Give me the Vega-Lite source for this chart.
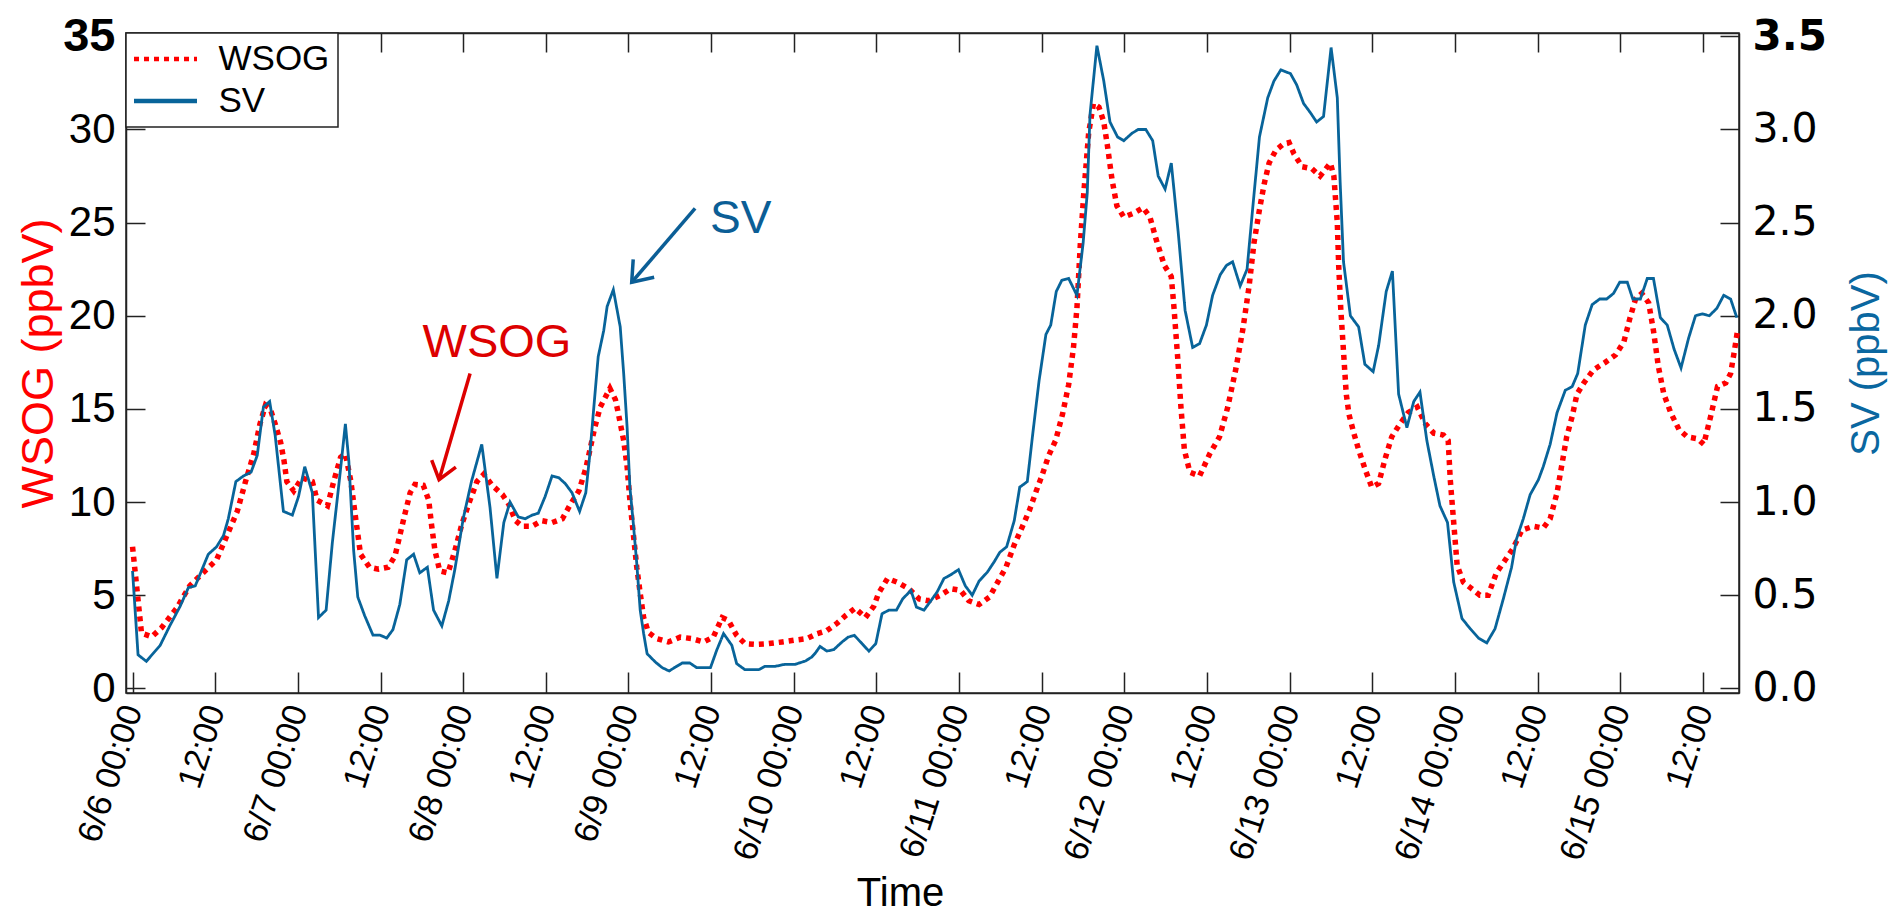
{
"$schema": "https://vega.github.io/schema/vega-lite/v6.json",
"width": 1613,
"height": 660,
"autosize": {"type": "none"},
"padding": {"left": 126, "top": 33, "right": 150, "bottom": 220},
"background": "white",
"config": {
 "font": "Liberation Sans",
 "view": {"stroke": "#222", "strokeWidth": 1.5},
 "axis": {"grid": false, "domainColor": "#222", "domainWidth": 1.5, "tickColor": "#222", "tickWidth": 1.5, "labelColor": "black", "labelFont": "Liberation Sans", "titleFont": "Liberation Sans", "titleFontWeight": "normal", "labelOverlap": false, "labelFlush": false, "labelBound": false},
 "legend": {"orient": "top-left", "offset": 0, "padding": 8, "strokeColor": "#222", "strokeWidth": 1.5, "fillColor": "white", "cornerRadius": 0, "labelFontSize": 35, "labelFont": "Liberation Sans", "labelColor": "black", "symbolType": "M -2 0 L 2 0", "symbolSize": 992, "symbolOffset": 13.5, "symbolStrokeWidth": 4.5, "labelOffset": 35, "rowPadding": 6}
},
"data": {"values": [
{"time":"2010-06-06T00:00Z","series":"WSOG","ppbv":7.6},
{"time":"2010-06-06T01:18Z","series":"WSOG","ppbv":2.96},
{"time":"2010-06-06T02:48Z","series":"WSOG","ppbv":2.77},
{"time":"2010-06-06T04:12Z","series":"WSOG","ppbv":3.25},
{"time":"2010-06-06T06:24Z","series":"WSOG","ppbv":4.3},
{"time":"2010-06-06T08:18Z","series":"WSOG","ppbv":5.5},
{"time":"2010-06-06T10:48Z","series":"WSOG","ppbv":6.4},
{"time":"2010-06-06T12:12Z","series":"WSOG","ppbv":6.9},
{"time":"2010-06-06T13:42Z","series":"WSOG","ppbv":8.2},
{"time":"2010-06-06T15:12Z","series":"WSOG","ppbv":9.5},
{"time":"2010-06-06T16:24Z","series":"WSOG","ppbv":11.1},
{"time":"2010-06-06T17:36Z","series":"WSOG","ppbv":12.6},
{"time":"2010-06-06T18:30Z","series":"WSOG","ppbv":14.2},
{"time":"2010-06-06T19:18Z","series":"WSOG","ppbv":15.2},
{"time":"2010-06-06T20:00Z","series":"WSOG","ppbv":15.0},
{"time":"2010-06-06T20:42Z","series":"WSOG","ppbv":14.2},
{"time":"2010-06-06T21:30Z","series":"WSOG","ppbv":13.2},
{"time":"2010-06-06T22:00Z","series":"WSOG","ppbv":12.2},
{"time":"2010-06-06T22:24Z","series":"WSOG","ppbv":11.1},
{"time":"2010-06-06T23:24Z","series":"WSOG","ppbv":10.6},
{"time":"2010-06-07T00:36Z","series":"WSOG","ppbv":11.3},
{"time":"2010-06-07T02:06Z","series":"WSOG","ppbv":11.1},
{"time":"2010-06-07T02:48Z","series":"WSOG","ppbv":10.1},
{"time":"2010-06-07T04:18Z","series":"WSOG","ppbv":9.8},
{"time":"2010-06-07T05:12Z","series":"WSOG","ppbv":11.1},
{"time":"2010-06-07T06:12Z","series":"WSOG","ppbv":12.4},
{"time":"2010-06-07T06:54Z","series":"WSOG","ppbv":12.6},
{"time":"2010-06-07T07:42Z","series":"WSOG","ppbv":11.1},
{"time":"2010-06-07T08:24Z","series":"WSOG","ppbv":9.1},
{"time":"2010-06-07T09:06Z","series":"WSOG","ppbv":7.2},
{"time":"2010-06-07T10:24Z","series":"WSOG","ppbv":6.5},
{"time":"2010-06-07T11:42Z","series":"WSOG","ppbv":6.4},
{"time":"2010-06-07T13:06Z","series":"WSOG","ppbv":6.5},
{"time":"2010-06-07T14:06Z","series":"WSOG","ppbv":7.1},
{"time":"2010-06-07T14:48Z","series":"WSOG","ppbv":8.2},
{"time":"2010-06-07T15:30Z","series":"WSOG","ppbv":9.3},
{"time":"2010-06-07T16:18Z","series":"WSOG","ppbv":10.5},
{"time":"2010-06-07T17:00Z","series":"WSOG","ppbv":10.95},
{"time":"2010-06-07T18:12Z","series":"WSOG","ppbv":10.9},
{"time":"2010-06-07T19:00Z","series":"WSOG","ppbv":10.1},
{"time":"2010-06-07T19:24Z","series":"WSOG","ppbv":8.8},
{"time":"2010-06-07T19:54Z","series":"WSOG","ppbv":7.4},
{"time":"2010-06-07T20:36Z","series":"WSOG","ppbv":6.3},
{"time":"2010-06-07T21:48Z","series":"WSOG","ppbv":6.2},
{"time":"2010-06-07T22:48Z","series":"WSOG","ppbv":7.4},
{"time":"2010-06-07T23:48Z","series":"WSOG","ppbv":8.8},
{"time":"2010-06-08T00:48Z","series":"WSOG","ppbv":9.9},
{"time":"2010-06-08T02:00Z","series":"WSOG","ppbv":11.1},
{"time":"2010-06-08T03:00Z","series":"WSOG","ppbv":11.5},
{"time":"2010-06-08T04:12Z","series":"WSOG","ppbv":10.9},
{"time":"2010-06-08T05:42Z","series":"WSOG","ppbv":10.4},
{"time":"2010-06-08T06:36Z","series":"WSOG","ppbv":9.9},
{"time":"2010-06-08T07:36Z","series":"WSOG","ppbv":9.0},
{"time":"2010-06-08T08:36Z","series":"WSOG","ppbv":8.7},
{"time":"2010-06-08T10:00Z","series":"WSOG","ppbv":8.7},
{"time":"2010-06-08T11:24Z","series":"WSOG","ppbv":9.0},
{"time":"2010-06-08T12:54Z","series":"WSOG","ppbv":8.9},
{"time":"2010-06-08T14:24Z","series":"WSOG","ppbv":9.1},
{"time":"2010-06-08T15:36Z","series":"WSOG","ppbv":9.9},
{"time":"2010-06-08T16:48Z","series":"WSOG","ppbv":10.6},
{"time":"2010-06-08T17:48Z","series":"WSOG","ppbv":11.8},
{"time":"2010-06-08T18:24Z","series":"WSOG","ppbv":12.8},
{"time":"2010-06-08T19:06Z","series":"WSOG","ppbv":14.0},
{"time":"2010-06-08T19:54Z","series":"WSOG","ppbv":15.1},
{"time":"2010-06-08T20:36Z","series":"WSOG","ppbv":15.6},
{"time":"2010-06-08T21:18Z","series":"WSOG","ppbv":16.1},
{"time":"2010-06-08T22:06Z","series":"WSOG","ppbv":15.5},
{"time":"2010-06-08T22:30Z","series":"WSOG","ppbv":14.8},
{"time":"2010-06-08T23:18Z","series":"WSOG","ppbv":13.3},
{"time":"2010-06-08T23:48Z","series":"WSOG","ppbv":11.9},
{"time":"2010-06-09T00:12Z","series":"WSOG","ppbv":10.1},
{"time":"2010-06-09T00:42Z","series":"WSOG","ppbv":8.3},
{"time":"2010-06-09T01:12Z","series":"WSOG","ppbv":6.5},
{"time":"2010-06-09T01:42Z","series":"WSOG","ppbv":5.1},
{"time":"2010-06-09T02:12Z","series":"WSOG","ppbv":3.8},
{"time":"2010-06-09T02:54Z","series":"WSOG","ppbv":3.0},
{"time":"2010-06-09T04:06Z","series":"WSOG","ppbv":2.67},
{"time":"2010-06-09T05:48Z","series":"WSOG","ppbv":2.49},
{"time":"2010-06-09T07:30Z","series":"WSOG","ppbv":2.75},
{"time":"2010-06-09T09:12Z","series":"WSOG","ppbv":2.67},
{"time":"2010-06-09T10:54Z","series":"WSOG","ppbv":2.49},
{"time":"2010-06-09T12:18Z","series":"WSOG","ppbv":2.75},
{"time":"2010-06-09T13:36Z","series":"WSOG","ppbv":3.8},
{"time":"2010-06-09T14:30Z","series":"WSOG","ppbv":3.65},
{"time":"2010-06-09T15:42Z","series":"WSOG","ppbv":2.84},
{"time":"2010-06-09T16:54Z","series":"WSOG","ppbv":2.4},
{"time":"2010-06-09T18:36Z","series":"WSOG","ppbv":2.36},
{"time":"2010-06-09T20:18Z","series":"WSOG","ppbv":2.4},
{"time":"2010-06-09T22:18Z","series":"WSOG","ppbv":2.49},
{"time":"2010-06-10T00:00Z","series":"WSOG","ppbv":2.58},
{"time":"2010-06-10T01:54Z","series":"WSOG","ppbv":2.67},
{"time":"2010-06-10T03:24Z","series":"WSOG","ppbv":2.94},
{"time":"2010-06-10T04:48Z","series":"WSOG","ppbv":3.1},
{"time":"2010-06-10T06:18Z","series":"WSOG","ppbv":3.5},
{"time":"2010-06-10T07:30Z","series":"WSOG","ppbv":3.9},
{"time":"2010-06-10T08:54Z","series":"WSOG","ppbv":4.3},
{"time":"2010-06-10T10:24Z","series":"WSOG","ppbv":3.8},
{"time":"2010-06-10T11:36Z","series":"WSOG","ppbv":4.4},
{"time":"2010-06-10T12:18Z","series":"WSOG","ppbv":5.1},
{"time":"2010-06-10T13:36Z","series":"WSOG","ppbv":5.9},
{"time":"2010-06-10T15:00Z","series":"WSOG","ppbv":5.7},
{"time":"2010-06-10T16:42Z","series":"WSOG","ppbv":5.35},
{"time":"2010-06-10T18:12Z","series":"WSOG","ppbv":4.8},
{"time":"2010-06-10T19:36Z","series":"WSOG","ppbv":4.7},
{"time":"2010-06-10T21:18Z","series":"WSOG","ppbv":5.0},
{"time":"2010-06-10T22:48Z","series":"WSOG","ppbv":5.35},
{"time":"2010-06-11T00:12Z","series":"WSOG","ppbv":5.26},
{"time":"2010-06-11T01:24Z","series":"WSOG","ppbv":4.7},
{"time":"2010-06-11T02:54Z","series":"WSOG","ppbv":4.5},
{"time":"2010-06-11T04:24Z","series":"WSOG","ppbv":4.9},
{"time":"2010-06-11T05:36Z","series":"WSOG","ppbv":5.7},
{"time":"2010-06-11T06:48Z","series":"WSOG","ppbv":6.5},
{"time":"2010-06-11T08:00Z","series":"WSOG","ppbv":7.7},
{"time":"2010-06-11T09:12Z","series":"WSOG","ppbv":8.7},
{"time":"2010-06-11T10:12Z","series":"WSOG","ppbv":9.55},
{"time":"2010-06-11T11:12Z","series":"WSOG","ppbv":10.6},
{"time":"2010-06-11T12:06Z","series":"WSOG","ppbv":11.5},
{"time":"2010-06-11T13:00Z","series":"WSOG","ppbv":12.5},
{"time":"2010-06-11T14:00Z","series":"WSOG","ppbv":13.3},
{"time":"2010-06-11T15:00Z","series":"WSOG","ppbv":14.7},
{"time":"2010-06-11T15:54Z","series":"WSOG","ppbv":16.3},
{"time":"2010-06-11T16:36Z","series":"WSOG","ppbv":18.3},
{"time":"2010-06-11T17:06Z","series":"WSOG","ppbv":20.4},
{"time":"2010-06-11T17:36Z","series":"WSOG","ppbv":23.9},
{"time":"2010-06-11T18:06Z","series":"WSOG","ppbv":26.6},
{"time":"2010-06-11T18:48Z","series":"WSOG","ppbv":29.8},
{"time":"2010-06-11T19:30Z","series":"WSOG","ppbv":31.4},
{"time":"2010-06-11T20:18Z","series":"WSOG","ppbv":31.2},
{"time":"2010-06-11T21:00Z","series":"WSOG","ppbv":30.4},
{"time":"2010-06-11T21:30Z","series":"WSOG","ppbv":29.2},
{"time":"2010-06-11T22:12Z","series":"WSOG","ppbv":27.3},
{"time":"2010-06-11T22:54Z","series":"WSOG","ppbv":25.9},
{"time":"2010-06-11T23:54Z","series":"WSOG","ppbv":25.3},
{"time":"2010-06-12T01:18Z","series":"WSOG","ppbv":25.5},
{"time":"2010-06-12T02:42Z","series":"WSOG","ppbv":25.8},
{"time":"2010-06-12T03:42Z","series":"WSOG","ppbv":25.3},
{"time":"2010-06-12T04:36Z","series":"WSOG","ppbv":24.1},
{"time":"2010-06-12T05:48Z","series":"WSOG","ppbv":22.7},
{"time":"2010-06-12T06:48Z","series":"WSOG","ppbv":22.1},
{"time":"2010-06-12T07:12Z","series":"WSOG","ppbv":20.4},
{"time":"2010-06-12T07:42Z","series":"WSOG","ppbv":17.9},
{"time":"2010-06-12T08:12Z","series":"WSOG","ppbv":15.1},
{"time":"2010-06-12T08:42Z","series":"WSOG","ppbv":12.8},
{"time":"2010-06-12T09:30Z","series":"WSOG","ppbv":11.6},
{"time":"2010-06-12T10:54Z","series":"WSOG","ppbv":11.4},
{"time":"2010-06-12T12:24Z","series":"WSOG","ppbv":12.6},
{"time":"2010-06-12T13:48Z","series":"WSOG","ppbv":13.5},
{"time":"2010-06-12T15:00Z","series":"WSOG","ppbv":15.1},
{"time":"2010-06-12T16:12Z","series":"WSOG","ppbv":17.2},
{"time":"2010-06-12T17:12Z","series":"WSOG","ppbv":19.3},
{"time":"2010-06-12T18:06Z","series":"WSOG","ppbv":21.6},
{"time":"2010-06-12T18:48Z","series":"WSOG","ppbv":23.9},
{"time":"2010-06-12T19:36Z","series":"WSOG","ppbv":25.7},
{"time":"2010-06-12T20:18Z","series":"WSOG","ppbv":27.1},
{"time":"2010-06-12T21:00Z","series":"WSOG","ppbv":28.2},
{"time":"2010-06-12T22:00Z","series":"WSOG","ppbv":28.9},
{"time":"2010-06-12T23:00Z","series":"WSOG","ppbv":29.2},
{"time":"2010-06-12T23:54Z","series":"WSOG","ppbv":29.3},
{"time":"2010-06-13T00:36Z","series":"WSOG","ppbv":28.7},
{"time":"2010-06-13T01:48Z","series":"WSOG","ppbv":28.0},
{"time":"2010-06-13T03:12Z","series":"WSOG","ppbv":27.9},
{"time":"2010-06-13T04:24Z","series":"WSOG","ppbv":27.5},
{"time":"2010-06-13T05:54Z","series":"WSOG","ppbv":28.2},
{"time":"2010-06-13T06:24Z","series":"WSOG","ppbv":27.5},
{"time":"2010-06-13T06:54Z","series":"WSOG","ppbv":25.0},
{"time":"2010-06-13T07:06Z","series":"WSOG","ppbv":22.7},
{"time":"2010-06-13T07:24Z","series":"WSOG","ppbv":20.4},
{"time":"2010-06-13T07:48Z","series":"WSOG","ppbv":18.1},
{"time":"2010-06-13T08:12Z","series":"WSOG","ppbv":15.8},
{"time":"2010-06-13T08:36Z","series":"WSOG","ppbv":14.7},
{"time":"2010-06-13T09:18Z","series":"WSOG","ppbv":13.7},
{"time":"2010-06-13T10:00Z","series":"WSOG","ppbv":12.8},
{"time":"2010-06-13T11:00Z","series":"WSOG","ppbv":11.7},
{"time":"2010-06-13T11:54Z","series":"WSOG","ppbv":10.8},
{"time":"2010-06-13T12:54Z","series":"WSOG","ppbv":11.0},
{"time":"2010-06-13T13:54Z","series":"WSOG","ppbv":12.4},
{"time":"2010-06-13T14:48Z","series":"WSOG","ppbv":13.5},
{"time":"2010-06-13T16:00Z","series":"WSOG","ppbv":14.2},
{"time":"2010-06-13T17:12Z","series":"WSOG","ppbv":14.8},
{"time":"2010-06-13T18:30Z","series":"WSOG","ppbv":15.1},
{"time":"2010-06-13T19:42Z","series":"WSOG","ppbv":14.2},
{"time":"2010-06-13T20:54Z","series":"WSOG","ppbv":13.7},
{"time":"2010-06-13T22:18Z","series":"WSOG","ppbv":13.6},
{"time":"2010-06-13T23:00Z","series":"WSOG","ppbv":13.3},
{"time":"2010-06-13T23:18Z","series":"WSOG","ppbv":11.2},
{"time":"2010-06-13T23:48Z","series":"WSOG","ppbv":8.9},
{"time":"2010-06-14T00:18Z","series":"WSOG","ppbv":6.6},
{"time":"2010-06-14T01:12Z","series":"WSOG","ppbv":5.7},
{"time":"2010-06-14T02:24Z","series":"WSOG","ppbv":5.35},
{"time":"2010-06-14T03:36Z","series":"WSOG","ppbv":5.0},
{"time":"2010-06-14T04:48Z","series":"WSOG","ppbv":5.0},
{"time":"2010-06-14T06:00Z","series":"WSOG","ppbv":6.2},
{"time":"2010-06-14T07:18Z","series":"WSOG","ppbv":6.9},
{"time":"2010-06-14T08:24Z","series":"WSOG","ppbv":7.5},
{"time":"2010-06-14T09:42Z","series":"WSOG","ppbv":8.5},
{"time":"2010-06-14T11:24Z","series":"WSOG","ppbv":8.7},
{"time":"2010-06-14T12:48Z","series":"WSOG","ppbv":8.6},
{"time":"2010-06-14T13:48Z","series":"WSOG","ppbv":9.1},
{"time":"2010-06-14T14:48Z","series":"WSOG","ppbv":10.5},
{"time":"2010-06-14T15:30Z","series":"WSOG","ppbv":12.0},
{"time":"2010-06-14T16:12Z","series":"WSOG","ppbv":13.5},
{"time":"2010-06-14T17:00Z","series":"WSOG","ppbv":14.6},
{"time":"2010-06-14T17:42Z","series":"WSOG","ppbv":15.8},
{"time":"2010-06-14T18:42Z","series":"WSOG","ppbv":16.4},
{"time":"2010-06-14T20:06Z","series":"WSOG","ppbv":17.1},
{"time":"2010-06-14T21:48Z","series":"WSOG","ppbv":17.5},
{"time":"2010-06-14T23:18Z","series":"WSOG","ppbv":17.9},
{"time":"2010-06-15T00:30Z","series":"WSOG","ppbv":18.6},
{"time":"2010-06-15T01:24Z","series":"WSOG","ppbv":19.9},
{"time":"2010-06-15T02:12Z","series":"WSOG","ppbv":20.9},
{"time":"2010-06-15T03:06Z","series":"WSOG","ppbv":21.2},
{"time":"2010-06-15T04:06Z","series":"WSOG","ppbv":20.7},
{"time":"2010-06-15T04:48Z","series":"WSOG","ppbv":19.2},
{"time":"2010-06-15T05:30Z","series":"WSOG","ppbv":17.3},
{"time":"2010-06-15T06:18Z","series":"WSOG","ppbv":15.8},
{"time":"2010-06-15T07:18Z","series":"WSOG","ppbv":14.8},
{"time":"2010-06-15T08:30Z","series":"WSOG","ppbv":13.9},
{"time":"2010-06-15T09:42Z","series":"WSOG","ppbv":13.5},
{"time":"2010-06-15T11:12Z","series":"WSOG","ppbv":13.4},
{"time":"2010-06-15T12:06Z","series":"WSOG","ppbv":13.1},
{"time":"2010-06-15T13:06Z","series":"WSOG","ppbv":14.6},
{"time":"2010-06-15T14:06Z","series":"WSOG","ppbv":16.2},
{"time":"2010-06-15T15:18Z","series":"WSOG","ppbv":16.4},
{"time":"2010-06-15T16:00Z","series":"WSOG","ppbv":16.9},
{"time":"2010-06-15T16:30Z","series":"WSOG","ppbv":18.0},
{"time":"2010-06-15T17:00Z","series":"WSOG","ppbv":19.2},
{"time":"2010-06-06T00:00Z","series":"SV","ppbv":0.63},
{"time":"2010-06-06T00:48Z","series":"SV","ppbv":0.18},
{"time":"2010-06-06T02:00Z","series":"SV","ppbv":0.145},
{"time":"2010-06-06T04:00Z","series":"SV","ppbv":0.23},
{"time":"2010-06-06T05:24Z","series":"SV","ppbv":0.335},
{"time":"2010-06-06T06:54Z","series":"SV","ppbv":0.44},
{"time":"2010-06-06T08:06Z","series":"SV","ppbv":0.54},
{"time":"2010-06-06T09:06Z","series":"SV","ppbv":0.55},
{"time":"2010-06-06T11:00Z","series":"SV","ppbv":0.72},
{"time":"2010-06-06T12:12Z","series":"SV","ppbv":0.76},
{"time":"2010-06-06T13:12Z","series":"SV","ppbv":0.82},
{"time":"2010-06-06T13:54Z","series":"SV","ppbv":0.91},
{"time":"2010-06-06T15:00Z","series":"SV","ppbv":1.11},
{"time":"2010-06-06T16:06Z","series":"SV","ppbv":1.14},
{"time":"2010-06-06T17:12Z","series":"SV","ppbv":1.16},
{"time":"2010-06-06T18:06Z","series":"SV","ppbv":1.25},
{"time":"2010-06-06T19:00Z","series":"SV","ppbv":1.51},
{"time":"2010-06-06T19:54Z","series":"SV","ppbv":1.54},
{"time":"2010-06-06T20:42Z","series":"SV","ppbv":1.36},
{"time":"2010-06-06T21:54Z","series":"SV","ppbv":0.95},
{"time":"2010-06-06T23:12Z","series":"SV","ppbv":0.93},
{"time":"2010-06-07T00:06Z","series":"SV","ppbv":1.03},
{"time":"2010-06-07T01:00Z","series":"SV","ppbv":1.19},
{"time":"2010-06-07T02:06Z","series":"SV","ppbv":1.05},
{"time":"2010-06-07T03:00Z","series":"SV","ppbv":0.38},
{"time":"2010-06-07T04:06Z","series":"SV","ppbv":0.42},
{"time":"2010-06-07T05:00Z","series":"SV","ppbv":0.78},
{"time":"2010-06-07T06:00Z","series":"SV","ppbv":1.11},
{"time":"2010-06-07T06:54Z","series":"SV","ppbv":1.42},
{"time":"2010-06-07T07:24Z","series":"SV","ppbv":1.22},
{"time":"2010-06-07T08:06Z","series":"SV","ppbv":0.74},
{"time":"2010-06-07T08:42Z","series":"SV","ppbv":0.49},
{"time":"2010-06-07T09:42Z","series":"SV","ppbv":0.39},
{"time":"2010-06-07T10:54Z","series":"SV","ppbv":0.286},
{"time":"2010-06-07T11:54Z","series":"SV","ppbv":0.286},
{"time":"2010-06-07T12:54Z","series":"SV","ppbv":0.27},
{"time":"2010-06-07T13:48Z","series":"SV","ppbv":0.315},
{"time":"2010-06-07T14:48Z","series":"SV","ppbv":0.45},
{"time":"2010-06-07T15:48Z","series":"SV","ppbv":0.69},
{"time":"2010-06-07T16:48Z","series":"SV","ppbv":0.72},
{"time":"2010-06-07T17:42Z","series":"SV","ppbv":0.62},
{"time":"2010-06-07T18:48Z","series":"SV","ppbv":0.65},
{"time":"2010-06-07T19:42Z","series":"SV","ppbv":0.42},
{"time":"2010-06-07T20:54Z","series":"SV","ppbv":0.335},
{"time":"2010-06-07T21:54Z","series":"SV","ppbv":0.47},
{"time":"2010-06-07T22:48Z","series":"SV","ppbv":0.64},
{"time":"2010-06-08T00:00Z","series":"SV","ppbv":0.91},
{"time":"2010-06-08T01:12Z","series":"SV","ppbv":1.11},
{"time":"2010-06-08T02:42Z","series":"SV","ppbv":1.31},
{"time":"2010-06-08T03:54Z","series":"SV","ppbv":0.97},
{"time":"2010-06-08T04:54Z","series":"SV","ppbv":0.59},
{"time":"2010-06-08T05:54Z","series":"SV","ppbv":0.89},
{"time":"2010-06-08T06:48Z","series":"SV","ppbv":1.0},
{"time":"2010-06-08T08:00Z","series":"SV","ppbv":0.92},
{"time":"2010-06-08T09:00Z","series":"SV","ppbv":0.91},
{"time":"2010-06-08T10:00Z","series":"SV","ppbv":0.93},
{"time":"2010-06-08T10:54Z","series":"SV","ppbv":0.94},
{"time":"2010-06-08T11:54Z","series":"SV","ppbv":1.03},
{"time":"2010-06-08T12:54Z","series":"SV","ppbv":1.14},
{"time":"2010-06-08T13:54Z","series":"SV","ppbv":1.13},
{"time":"2010-06-08T14:48Z","series":"SV","ppbv":1.10},
{"time":"2010-06-08T15:48Z","series":"SV","ppbv":1.05},
{"time":"2010-06-08T16:54Z","series":"SV","ppbv":0.95},
{"time":"2010-06-08T17:48Z","series":"SV","ppbv":1.05},
{"time":"2010-06-08T18:24Z","series":"SV","ppbv":1.26},
{"time":"2010-06-08T18:54Z","series":"SV","ppbv":1.48},
{"time":"2010-06-08T19:36Z","series":"SV","ppbv":1.78},
{"time":"2010-06-08T20:24Z","series":"SV","ppbv":1.92},
{"time":"2010-06-08T20:54Z","series":"SV","ppbv":2.05},
{"time":"2010-06-08T21:48Z","series":"SV","ppbv":2.14},
{"time":"2010-06-08T22:48Z","series":"SV","ppbv":1.94},
{"time":"2010-06-08T23:18Z","series":"SV","ppbv":1.69},
{"time":"2010-06-08T23:48Z","series":"SV","ppbv":1.40},
{"time":"2010-06-09T00:12Z","series":"SV","ppbv":1.08},
{"time":"2010-06-09T00:42Z","series":"SV","ppbv":0.885},
{"time":"2010-06-09T01:12Z","series":"SV","ppbv":0.67},
{"time":"2010-06-09T01:42Z","series":"SV","ppbv":0.42},
{"time":"2010-06-09T02:12Z","series":"SV","ppbv":0.294},
{"time":"2010-06-09T02:42Z","series":"SV","ppbv":0.186},
{"time":"2010-06-09T03:54Z","series":"SV","ppbv":0.141},
{"time":"2010-06-09T04:54Z","series":"SV","ppbv":0.111},
{"time":"2010-06-09T05:54Z","series":"SV","ppbv":0.093},
{"time":"2010-06-09T06:48Z","series":"SV","ppbv":0.114},
{"time":"2010-06-09T07:48Z","series":"SV","ppbv":0.136},
{"time":"2010-06-09T08:54Z","series":"SV","ppbv":0.136},
{"time":"2010-06-09T09:54Z","series":"SV","ppbv":0.111},
{"time":"2010-06-09T11:54Z","series":"SV","ppbv":0.111},
{"time":"2010-06-09T12:48Z","series":"SV","ppbv":0.204},
{"time":"2010-06-09T13:48Z","series":"SV","ppbv":0.294},
{"time":"2010-06-09T15:00Z","series":"SV","ppbv":0.231},
{"time":"2010-06-09T15:42Z","series":"SV","ppbv":0.133},
{"time":"2010-06-09T16:54Z","series":"SV","ppbv":0.10},
{"time":"2010-06-09T18:54Z","series":"SV","ppbv":0.10},
{"time":"2010-06-09T19:48Z","series":"SV","ppbv":0.118},
{"time":"2010-06-09T21:18Z","series":"SV","ppbv":0.118},
{"time":"2010-06-09T22:42Z","series":"SV","ppbv":0.129},
{"time":"2010-06-10T00:12Z","series":"SV","ppbv":0.129},
{"time":"2010-06-10T01:42Z","series":"SV","ppbv":0.147},
{"time":"2010-06-10T02:36Z","series":"SV","ppbv":0.168},
{"time":"2010-06-10T03:06Z","series":"SV","ppbv":0.188},
{"time":"2010-06-10T03:48Z","series":"SV","ppbv":0.225},
{"time":"2010-06-10T04:48Z","series":"SV","ppbv":0.20},
{"time":"2010-06-10T05:48Z","series":"SV","ppbv":0.208},
{"time":"2010-06-10T07:00Z","series":"SV","ppbv":0.249},
{"time":"2010-06-10T07:54Z","series":"SV","ppbv":0.275},
{"time":"2010-06-10T08:48Z","series":"SV","ppbv":0.284},
{"time":"2010-06-10T09:54Z","series":"SV","ppbv":0.24},
{"time":"2010-06-10T10:54Z","series":"SV","ppbv":0.20},
{"time":"2010-06-10T11:54Z","series":"SV","ppbv":0.24},
{"time":"2010-06-10T12:48Z","series":"SV","ppbv":0.40},
{"time":"2010-06-10T13:48Z","series":"SV","ppbv":0.42},
{"time":"2010-06-10T14:54Z","series":"SV","ppbv":0.42},
{"time":"2010-06-10T15:48Z","series":"SV","ppbv":0.48},
{"time":"2010-06-10T17:00Z","series":"SV","ppbv":0.526},
{"time":"2010-06-10T17:48Z","series":"SV","ppbv":0.436},
{"time":"2010-06-10T18:54Z","series":"SV","ppbv":0.42},
{"time":"2010-06-10T19:54Z","series":"SV","ppbv":0.47},
{"time":"2010-06-10T20:48Z","series":"SV","ppbv":0.517},
{"time":"2010-06-10T21:48Z","series":"SV","ppbv":0.59},
{"time":"2010-06-10T22:48Z","series":"SV","ppbv":0.61},
{"time":"2010-06-10T23:54Z","series":"SV","ppbv":0.637},
{"time":"2010-06-11T00:54Z","series":"SV","ppbv":0.55},
{"time":"2010-06-11T01:54Z","series":"SV","ppbv":0.50},
{"time":"2010-06-11T02:54Z","series":"SV","ppbv":0.576},
{"time":"2010-06-11T04:06Z","series":"SV","ppbv":0.624},
{"time":"2010-06-11T05:06Z","series":"SV","ppbv":0.68},
{"time":"2010-06-11T05:54Z","series":"SV","ppbv":0.73},
{"time":"2010-06-11T06:54Z","series":"SV","ppbv":0.76},
{"time":"2010-06-11T08:00Z","series":"SV","ppbv":0.90},
{"time":"2010-06-11T08:48Z","series":"SV","ppbv":1.08},
{"time":"2010-06-11T09:54Z","series":"SV","ppbv":1.11},
{"time":"2010-06-11T10:42Z","series":"SV","ppbv":1.37},
{"time":"2010-06-11T11:36Z","series":"SV","ppbv":1.65},
{"time":"2010-06-11T12:36Z","series":"SV","ppbv":1.90},
{"time":"2010-06-11T13:18Z","series":"SV","ppbv":1.95},
{"time":"2010-06-11T14:06Z","series":"SV","ppbv":2.13},
{"time":"2010-06-11T14:54Z","series":"SV","ppbv":2.19},
{"time":"2010-06-11T15:54Z","series":"SV","ppbv":2.20},
{"time":"2010-06-11T17:06Z","series":"SV","ppbv":2.11},
{"time":"2010-06-11T18:00Z","series":"SV","ppbv":2.39},
{"time":"2010-06-11T18:36Z","series":"SV","ppbv":2.66},
{"time":"2010-06-11T19:00Z","series":"SV","ppbv":3.08},
{"time":"2010-06-11T20:00Z","series":"SV","ppbv":3.45},
{"time":"2010-06-11T21:00Z","series":"SV","ppbv":3.26},
{"time":"2010-06-11T21:54Z","series":"SV","ppbv":3.04},
{"time":"2010-06-11T23:00Z","series":"SV","ppbv":2.96},
{"time":"2010-06-11T23:54Z","series":"SV","ppbv":2.94},
{"time":"2010-06-12T01:06Z","series":"SV","ppbv":2.98},
{"time":"2010-06-12T02:00Z","series":"SV","ppbv":3.00},
{"time":"2010-06-12T03:06Z","series":"SV","ppbv":3.00},
{"time":"2010-06-12T04:06Z","series":"SV","ppbv":2.94},
{"time":"2010-06-12T04:54Z","series":"SV","ppbv":2.75},
{"time":"2010-06-12T05:54Z","series":"SV","ppbv":2.68},
{"time":"2010-06-12T06:48Z","series":"SV","ppbv":2.82},
{"time":"2010-06-12T07:48Z","series":"SV","ppbv":2.45},
{"time":"2010-06-12T08:48Z","series":"SV","ppbv":2.03},
{"time":"2010-06-12T09:54Z","series":"SV","ppbv":1.83},
{"time":"2010-06-12T10:54Z","series":"SV","ppbv":1.85},
{"time":"2010-06-12T11:54Z","series":"SV","ppbv":1.95},
{"time":"2010-06-12T12:48Z","series":"SV","ppbv":2.11},
{"time":"2010-06-12T13:54Z","series":"SV","ppbv":2.22},
{"time":"2010-06-12T14:48Z","series":"SV","ppbv":2.27},
{"time":"2010-06-12T15:42Z","series":"SV","ppbv":2.29},
{"time":"2010-06-12T16:48Z","series":"SV","ppbv":2.16},
{"time":"2010-06-12T17:48Z","series":"SV","ppbv":2.25},
{"time":"2010-06-12T18:36Z","series":"SV","ppbv":2.57},
{"time":"2010-06-12T19:36Z","series":"SV","ppbv":2.96},
{"time":"2010-06-12T20:48Z","series":"SV","ppbv":3.17},
{"time":"2010-06-12T21:42Z","series":"SV","ppbv":3.26},
{"time":"2010-06-12T22:42Z","series":"SV","ppbv":3.32},
{"time":"2010-06-13T00:06Z","series":"SV","ppbv":3.30},
{"time":"2010-06-13T01:00Z","series":"SV","ppbv":3.24},
{"time":"2010-06-13T02:00Z","series":"SV","ppbv":3.14},
{"time":"2010-06-13T03:00Z","series":"SV","ppbv":3.09},
{"time":"2010-06-13T03:54Z","series":"SV","ppbv":3.04},
{"time":"2010-06-13T04:54Z","series":"SV","ppbv":3.07},
{"time":"2010-06-13T06:00Z","series":"SV","ppbv":3.44},
{"time":"2010-06-13T06:54Z","series":"SV","ppbv":3.17},
{"time":"2010-06-13T07:18Z","series":"SV","ppbv":2.73},
{"time":"2010-06-13T07:48Z","series":"SV","ppbv":2.29},
{"time":"2010-06-13T08:48Z","series":"SV","ppbv":2.00},
{"time":"2010-06-13T10:00Z","series":"SV","ppbv":1.94},
{"time":"2010-06-13T10:54Z","series":"SV","ppbv":1.74},
{"time":"2010-06-13T12:06Z","series":"SV","ppbv":1.70},
{"time":"2010-06-13T12:54Z","series":"SV","ppbv":1.84},
{"time":"2010-06-13T14:00Z","series":"SV","ppbv":2.13},
{"time":"2010-06-13T14:54Z","series":"SV","ppbv":2.24},
{"time":"2010-06-13T15:48Z","series":"SV","ppbv":1.58},
{"time":"2010-06-13T17:00Z","series":"SV","ppbv":1.40},
{"time":"2010-06-13T18:00Z","series":"SV","ppbv":1.54},
{"time":"2010-06-13T18:54Z","series":"SV","ppbv":1.59},
{"time":"2010-06-13T19:54Z","series":"SV","ppbv":1.33},
{"time":"2010-06-13T20:54Z","series":"SV","ppbv":1.14},
{"time":"2010-06-13T21:48Z","series":"SV","ppbv":0.98},
{"time":"2010-06-13T22:54Z","series":"SV","ppbv":0.89},
{"time":"2010-06-13T23:48Z","series":"SV","ppbv":0.57},
{"time":"2010-06-14T01:00Z","series":"SV","ppbv":0.375},
{"time":"2010-06-14T02:12Z","series":"SV","ppbv":0.32},
{"time":"2010-06-14T03:24Z","series":"SV","ppbv":0.27},
{"time":"2010-06-14T04:36Z","series":"SV","ppbv":0.244},
{"time":"2010-06-14T05:48Z","series":"SV","ppbv":0.32},
{"time":"2010-06-14T07:00Z","series":"SV","ppbv":0.48},
{"time":"2010-06-14T08:12Z","series":"SV","ppbv":0.65},
{"time":"2010-06-14T08:54Z","series":"SV","ppbv":0.80},
{"time":"2010-06-14T09:54Z","series":"SV","ppbv":0.91},
{"time":"2010-06-14T10:54Z","series":"SV","ppbv":1.04},
{"time":"2010-06-14T12:06Z","series":"SV","ppbv":1.12},
{"time":"2010-06-14T12:48Z","series":"SV","ppbv":1.19},
{"time":"2010-06-14T13:48Z","series":"SV","ppbv":1.31},
{"time":"2010-06-14T14:48Z","series":"SV","ppbv":1.48},
{"time":"2010-06-14T16:00Z","series":"SV","ppbv":1.60},
{"time":"2010-06-14T17:00Z","series":"SV","ppbv":1.62},
{"time":"2010-06-14T17:48Z","series":"SV","ppbv":1.69},
{"time":"2010-06-14T18:54Z","series":"SV","ppbv":1.95},
{"time":"2010-06-14T19:54Z","series":"SV","ppbv":2.06},
{"time":"2010-06-14T21:00Z","series":"SV","ppbv":2.09},
{"time":"2010-06-14T22:00Z","series":"SV","ppbv":2.09},
{"time":"2010-06-14T23:00Z","series":"SV","ppbv":2.12},
{"time":"2010-06-14T23:54Z","series":"SV","ppbv":2.18},
{"time":"2010-06-15T01:00Z","series":"SV","ppbv":2.18},
{"time":"2010-06-15T01:48Z","series":"SV","ppbv":2.09},
{"time":"2010-06-15T02:54Z","series":"SV","ppbv":2.09},
{"time":"2010-06-15T03:54Z","series":"SV","ppbv":2.20},
{"time":"2010-06-15T04:48Z","series":"SV","ppbv":2.20},
{"time":"2010-06-15T05:48Z","series":"SV","ppbv":1.99},
{"time":"2010-06-15T06:48Z","series":"SV","ppbv":1.95},
{"time":"2010-06-15T07:48Z","series":"SV","ppbv":1.82},
{"time":"2010-06-15T08:48Z","series":"SV","ppbv":1.72},
{"time":"2010-06-15T09:54Z","series":"SV","ppbv":1.88},
{"time":"2010-06-15T10:54Z","series":"SV","ppbv":2.00},
{"time":"2010-06-15T11:54Z","series":"SV","ppbv":2.01},
{"time":"2010-06-15T12:54Z","series":"SV","ppbv":2.00},
{"time":"2010-06-15T14:00Z","series":"SV","ppbv":2.04},
{"time":"2010-06-15T15:00Z","series":"SV","ppbv":2.11},
{"time":"2010-06-15T16:00Z","series":"SV","ppbv":2.09},
{"time":"2010-06-15T16:54Z","series":"SV","ppbv":1.99}
]},
"layer": [
 {
  "transform": [{"filter": "datum.series == 'WSOG'"}],
  "mark": {"type": "line", "strokeCap": "butt", "strokeJoin": "miter", "strokeWidth": 5.5},
  "encoding": {
   "x": {"field": "time", "type": "temporal",
    "scale": {"type": "utc", "domain": [1275778980000, 1276621980000], "nice": false},
    "axis": {"orient": "bottom", "title": "Time",
     "values": [1275782400000, 1275825600000, 1275868800000, 1275912000000, 1275955200000, 1275998400000, 1276041600000, 1276084800000, 1276128000000, 1276171200000, 1276214400000, 1276257600000, 1276300800000, 1276344000000, 1276387200000, 1276430400000, 1276473600000, 1276516800000, 1276560000000, 1276603200000],
     "tickSize": -21, "labelPadding": 34, "labelAngle": -72, "labelAlign": "right", "labelBaseline": "middle", "labelFontSize": 34,
     "labelExpr": "utcFormat(datum.value, '%H') == '00' ? utcFormat(datum.value, '%-m/%-d %H:%M') : utcFormat(datum.value, '%H:%M')",
     "titleFontSize": 40, "titleColor": "black", "titleX": 774, "titleY": 212, "titleBaseline": "alphabetic", "titleAlign": "center"}},
   "y": {"field": "ppbv", "type": "quantitative",
    "scale": {"domain": [-0.25, 35.18], "nice": false, "zero": false},
    "axis": {"orient": "left", "title": "WSOG (ppbV)", "values": [0, 5, 10, 15, 20, 25, 30, 35], "tickSize": -19, "labelPadding": 30,
     "labelExpr": "datum.value == 35 ? '35\u00a0' : datum.label",
     "labelFontSize": {"condition": {"test": "datum.value == 35", "value": 47}, "value": 42},
     "labelFontWeight": {"condition": {"test": "datum.value == 35", "value": "bold"}, "value": "normal"},
     "titleColor": "#ff0000", "titleFontSize": 45, "titlePadding": 1}},
   "color": {"field": "series", "type": "nominal", "scale": {"domain": ["WSOG", "SV"], "range": ["#ff0000", "#08649a"]}, "legend": {"title": null}},
   "strokeDash": {"field": "series", "type": "nominal", "scale": {"domain": ["WSOG", "SV"], "range": [[5, 5], [1, 0]]}, "legend": {"title": null}}
  }
 },
 {
  "transform": [{"filter": "datum.series == 'SV'"}],
  "mark": {"type": "line", "strokeJoin": "miter", "strokeWidth": 2.8},
  "encoding": {
   "x": {"field": "time", "type": "temporal",
    "scale": {"type": "utc", "domain": [1275778980000, 1276621980000], "nice": false},
    "axis": {"orient": "top", "title": null, "labels": false, "tickSize": -19,
     "values": [1275782400000, 1275825600000, 1275868800000, 1275912000000, 1275955200000, 1275998400000, 1276041600000, 1276084800000, 1276128000000, 1276171200000, 1276214400000, 1276257600000, 1276300800000, 1276344000000, 1276387200000, 1276430400000, 1276473600000, 1276516800000, 1276560000000, 1276603200000]}},
   "y": {"field": "ppbv", "type": "quantitative",
    "scale": {"domain": [-0.025, 3.518], "nice": false, "zero": false},
    "axis": {"orient": "right", "title": "SV (ppbV)", "values": [0, 0.5, 1, 1.5, 2, 2.5, 3, 3.5], "format": ".1f", "tickSize": -19, "labelPadding": 32, "labelFont": "DejaVu Sans",
     "labelFontSize": {"condition": {"test": "datum.value == 3.5", "value": 42}, "value": 41},
     "labelFontWeight": {"condition": {"test": "datum.value == 3.5", "value": "bold"}, "value": "normal"},
     "titleColor": "#0a67a0", "titleFontSize": 40, "titleAngle": 270, "titleBaseline": "top", "titlePadding": 20}},
   "color": {"field": "series", "type": "nominal", "scale": {"domain": ["WSOG", "SV"], "range": ["#ff0000", "#08649a"]}, "legend": {"title": null}},
   "strokeDash": {"field": "series", "type": "nominal", "scale": {"domain": ["WSOG", "SV"], "range": [[5, 5], [1, 0]]}, "legend": {"title": null}}
  }
 },
 {
  "data": {"values": [{"time": "2010-06-08T04:54Z", "ppbv": 18.55, "label": "WSOG"}]},
  "mark": {"type": "text", "fontSize": 47, "font": "Liberation Sans", "color": "#dd0000", "align": "center", "baseline": "middle"},
  "encoding": {
   "x": {"field": "time", "type": "temporal", "axis": null},
   "y": {"field": "ppbv", "type": "quantitative", "scale": {"domain": [-0.25, 35.18], "nice": false, "zero": false}, "axis": null},
   "text": {"field": "label"}
  }
 },
 {
  "data": {"values": [{"time": "2010-06-08T01:00Z", "ppbv": 16.9, "time2": "2010-06-07T20:30Z", "ppbv2": 11.2}]},
  "mark": {"type": "rule", "color": "#dd0000", "strokeWidth": 3.5},
  "encoding": {
   "x": {"field": "time", "type": "temporal", "axis": null},
   "x2": {"field": "time2"},
   "y": {"field": "ppbv", "type": "quantitative", "scale": {"domain": [-0.25, 35.18], "nice": false, "zero": false}, "axis": null},
   "y2": {"field": "ppbv2"}
  }
 },
 {
  "data": {"values": [{"time": "2010-06-07T20:30Z", "ppbv": 11.2}]},
  "mark": {"type": "point", "shape": "M -0.6 0.8 L 0 0 L 0.6 0.8", "filled": false, "stroke": "#dd0000", "strokeWidth": 3.5, "size": 1764, "angle": 196.3, "opacity": 1},
  "encoding": {
   "x": {"field": "time", "type": "temporal", "axis": null},
   "y": {"field": "ppbv", "type": "quantitative", "scale": {"domain": [-0.25, 35.18], "nice": false, "zero": false}, "axis": null}
  }
 },
 {
  "data": {"values": [{"time": "2010-06-09T16:18Z", "ppbv": 25.2, "label": "SV"}]},
  "mark": {"type": "text", "fontSize": 46, "font": "Liberation Sans", "color": "#0b5e96", "align": "center", "baseline": "middle"},
  "encoding": {
   "x": {"field": "time", "type": "temporal", "axis": null},
   "y": {"field": "ppbv", "type": "quantitative", "scale": {"domain": [-0.25, 35.18], "nice": false, "zero": false}, "axis": null},
   "text": {"field": "label"}
  }
 },
 {
  "data": {"values": [{"time": "2010-06-09T09:40Z", "ppbv": 25.76, "time2": "2010-06-09T00:28Z", "ppbv2": 21.8}]},
  "mark": {"type": "rule", "color": "#0b5e96", "strokeWidth": 3.5},
  "encoding": {
   "x": {"field": "time", "type": "temporal", "axis": null},
   "x2": {"field": "time2"},
   "y": {"field": "ppbv", "type": "quantitative", "scale": {"domain": [-0.25, 35.18], "nice": false, "zero": false}, "axis": null},
   "y2": {"field": "ppbv2"}
  }
 },
 {
  "data": {"values": [{"time": "2010-06-09T00:28Z", "ppbv": 21.8}]},
  "mark": {"type": "point", "shape": "M -0.6 0.8 L 0 0 L 0.6 0.8", "filled": false, "stroke": "#0b5e96", "strokeWidth": 3.5, "size": 2116, "angle": 220.6, "opacity": 1},
  "encoding": {
   "x": {"field": "time", "type": "temporal", "axis": null},
   "y": {"field": "ppbv", "type": "quantitative", "scale": {"domain": [-0.25, 35.18], "nice": false, "zero": false}, "axis": null}
  }
 }
],
"resolve": {"scale": {"y": "independent"}, "axis": {"x": "independent", "y": "independent"}}
}
